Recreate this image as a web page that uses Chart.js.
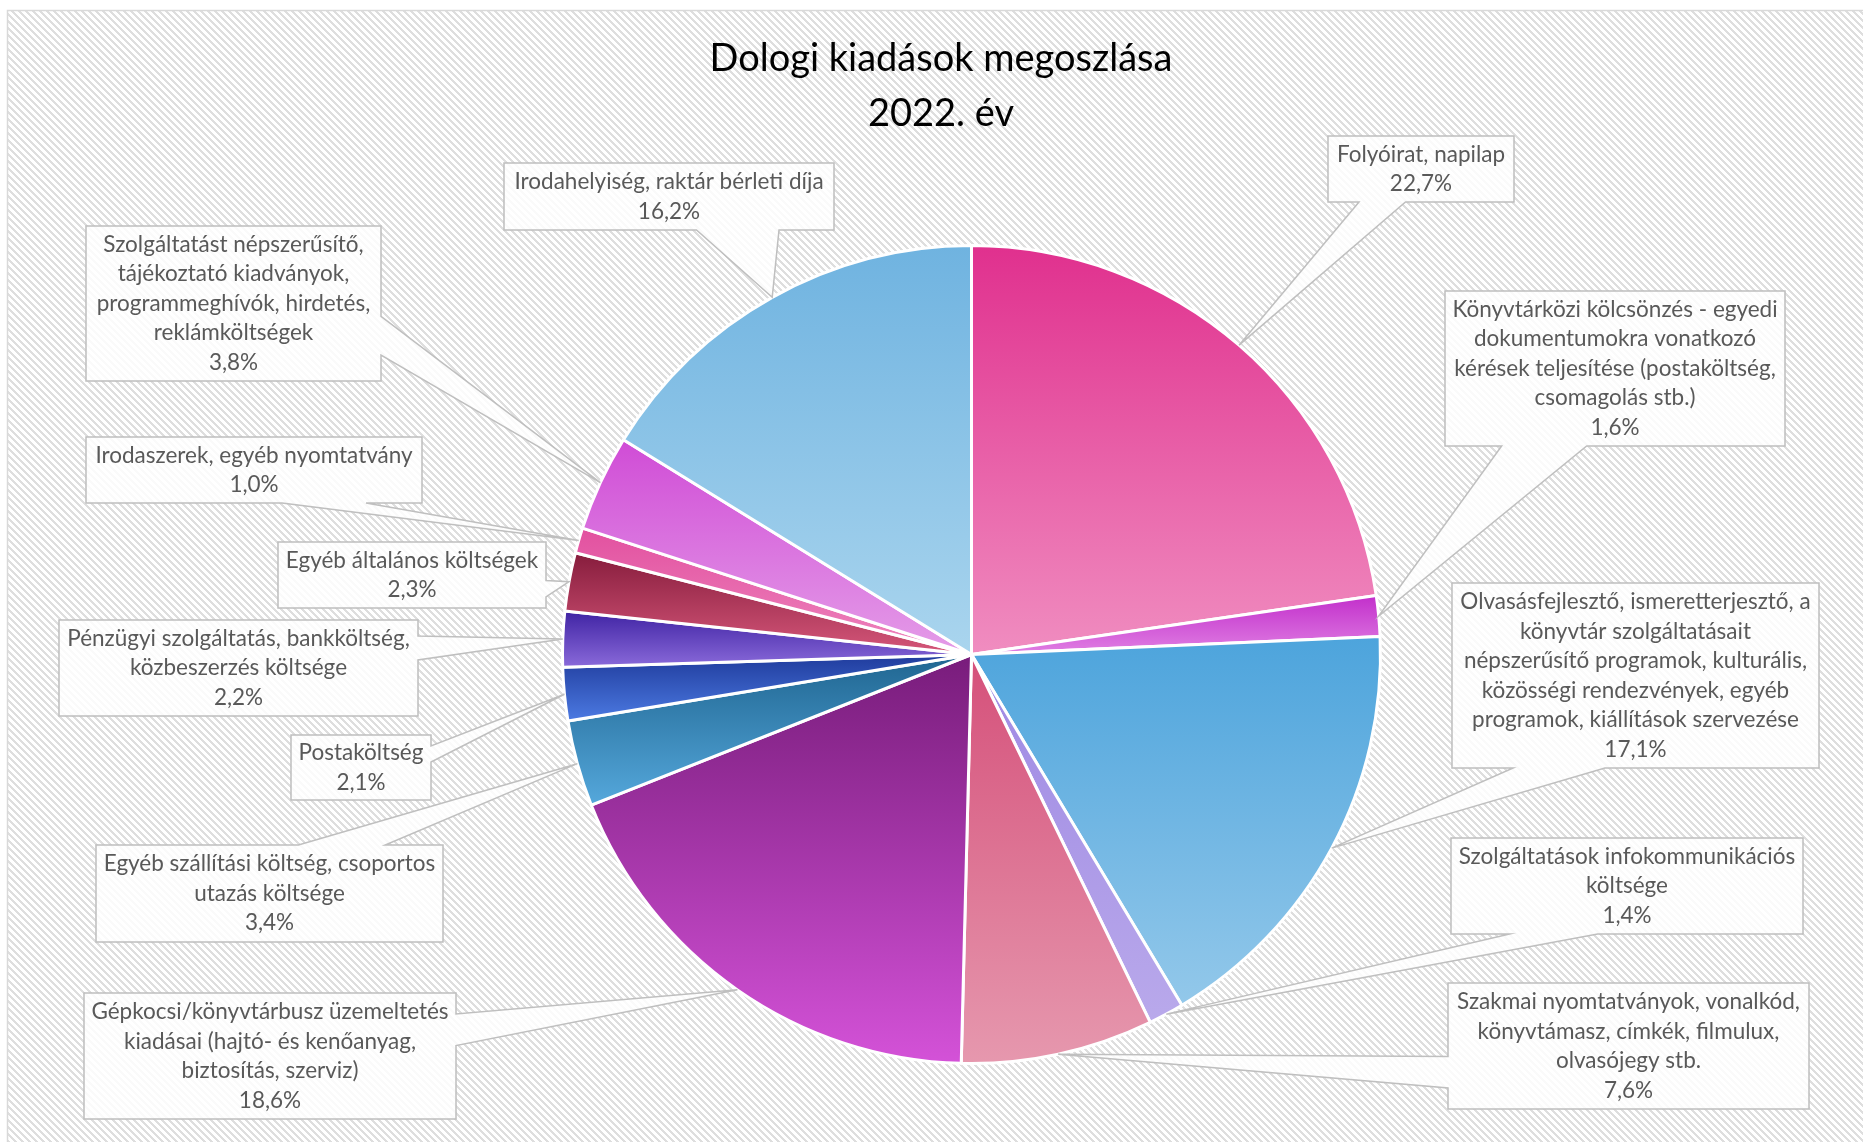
<!DOCTYPE html>
<html>
<head>
<meta charset="utf-8">
<title>Dologi kiadások megoszlása 2022. év</title>
<script src="https://cdn.jsdelivr.net/npm/chart.js@4.4.1/dist/chart.umd.min.js"></script>
<style>
  html, body { margin: 0; padding: 0; background: #fff; }
  #wrap { width: 1863px; height: 1142px; }
</style>
</head>
<body>
<div id="wrap"><canvas id="chart" width="1863" height="1142"></canvas></div>
<script>
const cimSorok = ['Dologi kiadások megoszlása', '2022. év'];

// kategóriák (sortörésekkel, ahogy a feliratokon látszik)
const kategoriak = [
  ['Folyóirat, napilap'],
  ['Könyvtárközi kölcsönzés - egyedi', 'dokumentumokra vonatkozó', 'kérések teljesítése (postaköltség,', 'csomagolás stb.)'],
  ['Olvasásfejlesztő, ismeretterjesztő, a', 'könyvtár szolgáltatásait', 'népszerűsítő programok, kulturális,', 'közösségi rendezvények, egyéb', 'programok, kiállítások szervezése'],
  ['Szolgáltatások infokommunikációs', 'költsége'],
  ['Szakmai nyomtatványok, vonalkód,', 'könyvtámasz, címkék, filmulux,', 'olvasójegy stb.'],
  ['Gépkocsi/könyvtárbusz üzemeltetés', 'kiadásai (hajtó- és kenőanyag,', 'biztosítás, szerviz)'],
  ['Egyéb szállítási költség, csoportos', 'utazás költsége'],
  ['Postaköltség'],
  ['Pénzügyi szolgáltatás, bankköltség,', 'közbeszerzés költsége'],
  ['Egyéb általános költségek'],
  ['Irodaszerek, egyéb nyomtatvány'],
  ['Szolgáltatást népszerűsítő,', 'tájékoztató kiadványok,', 'programmeghívók, hirdetés,', 'reklámköltségek'],
  ['Irodahelyiség, raktár bérleti díja']
];

// százalékos megoszlás
const ertekek = [22.7, 1.6, 17.1, 1.4, 7.6, 18.6, 3.4, 2.1, 2.2, 2.3, 1.0, 3.8, 16.2];

// színátmenet: szelet teteje / alja
const szinekFent = ['#E0308E', '#C22FCB', '#4DA4DC', '#9E88E3', '#D5507A', '#781C7B', '#1F6590',
                    '#1F3B9C', '#3F23A3', '#861C3C', '#E2509F', '#D04CD6', '#6FB3E0'];
const szinekLent = ['#F08DC0', '#E07FE3', '#93C8EA', '#B9A9EB', '#E698AE', '#D452D8', '#55A8DC',
                    '#4C7AE2', '#8A6ADA', '#D6577A', '#EE86BE', '#E49CE8', '#AAD5EE'];

// feliratdobozok helye: [bal, fent, jobb, lent]
const dobozok = [
  [1328, 136, 1514, 202],
  [1445, 291, 1785, 446],
  [1452, 583, 1819, 768],
  [1451, 838, 1803, 934],
  [1448, 983, 1809, 1109],
  [84, 993, 456, 1119],
  [96, 845, 443, 942],
  [291, 735, 431, 800],
  [59, 620, 418, 716],
  [278, 542, 546, 608],
  [86, 437, 422, 503],
  [86, 226, 381, 381],
  [504, 163, 834, 230]
];

const keretVastag = 3;
const betu = 'Lato, "Open Sans", sans-serif';

function szazalek(v) {
  return v.toFixed(1).replace('.', ',') + '%';
}

function szeletSzin(context) {
  const chart = context.chart;
  const area = chart.chartArea;
  const i = context.dataIndex;
  if (!area || i === undefined) return szinekFent[i] || '#cccccc';
  const cx = (area.left + area.right) / 2;
  const cy = (area.top + area.bottom) / 2;
  const r = (Math.min(area.right - area.left, area.bottom - area.top) - keretVastag) / 2;
  const osszes = ertekek.reduce((a, b) => a + b, 0);
  let elotte = 0;
  for (let k = 0; k < i; k++) elotte += ertekek[k];
  const a1 = -Math.PI / 2 + 2 * Math.PI * elotte / osszes;
  const a2 = a1 + 2 * Math.PI * ertekek[i] / osszes;
  const ys = [cy, cy + r * Math.sin(a1), cy + r * Math.sin(a2)];
  [Math.PI / 2, Math.PI * 1.5].forEach(a => {
    if (a > a1 && a < a2) ys.push(cy + r * Math.sin(a));
  });
  const g = chart.ctx.createLinearGradient(0, Math.min(...ys), 0, Math.max(...ys));
  g.addColorStop(0, szinekFent[i]);
  g.addColorStop(1, szinekLent[i]);
  return g;
}

function csikosMinta(ctx) {
  const c = document.createElement('canvas');
  c.width = 7; c.height = 7;
  const m = c.getContext('2d');
  m.fillStyle = '#ffffff';
  m.fillRect(0, 0, 7, 7);
  m.fillStyle = '#dedede';
  for (let y = 0; y < 7; y++) {
    for (let x = 0; x < 7; x++) {
      if (((x - y) % 7 + 7) % 7 < 3) m.fillRect(x, y, 1, 1);
    }
  }
  return ctx.createPattern(c, 'repeat');
}

// Excel-szerű "wedgeRectCallout" alakzat
function kiemeloUtvonal(ctx, l, t, r, b, xPos, yPos) {
  const w = r - l, h = b - t;
  const hc = l + w / 2, vc = t + h / 2;
  const dxPos = xPos - hc, dyPos = yPos - vc;
  const dq = dxPos * h / w;
  const dz = Math.abs(dyPos) - Math.abs(dq);
  const x1 = l + w * (dxPos > 0 ? 7 : 2) / 12;
  const x2 = l + w * (dxPos > 0 ? 10 : 5) / 12;
  const y1 = t + h * (dyPos > 0 ? 7 : 2) / 12;
  const y2 = t + h * (dyPos > 0 ? 10 : 5) / 12;
  const xl = dz > 0 ? l : (dxPos > 0 ? l : xPos);
  const yl = dz > 0 ? y1 : (dxPos > 0 ? y1 : yPos);
  const xt = dz > 0 ? (dyPos > 0 ? x1 : xPos) : x1;
  const yt = dz > 0 ? (dyPos > 0 ? t : yPos) : t;
  const xr = dz > 0 ? r : (dxPos > 0 ? xPos : r);
  const yr = dz > 0 ? y1 : (dxPos > 0 ? yPos : y1);
  const xb = dz > 0 ? (dyPos > 0 ? xPos : x1) : x1;
  const yb = dz > 0 ? (dyPos > 0 ? yPos : b) : b;
  ctx.moveTo(l, t);
  ctx.lineTo(x1, t);
  ctx.lineTo(xt, yt);
  ctx.lineTo(x2, t);
  ctx.lineTo(r, t);
  ctx.lineTo(r, y1);
  ctx.lineTo(xr, yr);
  ctx.lineTo(r, y2);
  ctx.lineTo(r, b);
  ctx.lineTo(x2, b);
  ctx.lineTo(xb, yb);
  ctx.lineTo(x1, b);
  ctx.lineTo(l, b);
  ctx.lineTo(l, y2);
  ctx.lineTo(xl, yl);
  ctx.lineTo(l, y1);
  ctx.closePath();
}

const hatter = {
  id: 'hatter',
  beforeDraw(chart) {
    const ctx = chart.ctx;
    ctx.save();
    ctx.fillStyle = '#ffffff';
    ctx.fillRect(0, 0, chart.width, chart.height);
    ctx.fillStyle = csikosMinta(ctx);
    ctx.fillRect(7, 10, chart.width - 7, chart.height - 10);
    ctx.strokeStyle = '#d9d9d9';
    ctx.lineWidth = 1.5;
    ctx.strokeRect(7.5, 10.5, chart.width + 10, chart.height + 10);
    ctx.restore();
  }
};

const feliratok = {
  id: 'feliratok',
  afterDatasetsDraw(chart) {
    const ctx = chart.ctx;
    const meta = chart.getDatasetMeta(0);
    ctx.save();
    // cím
    ctx.fillStyle = '#000000';
    ctx.font = '38px ' + betu;
    ctx.textAlign = 'center';
    ctx.textBaseline = 'alphabetic';
    cimSorok.forEach((s, k) => ctx.fillText(s, 941, 71 + k * 55));

    meta.data.forEach((arc, i) => {
      const p = arc.getProps(['x', 'y', 'startAngle', 'endAngle', 'outerRadius'], true);
      const mid = (p.startAngle + p.endAngle) / 2;
      const tx = p.x + Math.cos(mid) * p.outerRadius;
      const ty = p.y + Math.sin(mid) * p.outerRadius;
      const [l, t, r, b] = dobozok[i];
      ctx.beginPath();
      kiemeloUtvonal(ctx, l, t, r, b, tx, ty);
      ctx.fillStyle = 'rgba(255,255,255,0.85)';
      ctx.fill();
      ctx.strokeStyle = '#bfbfbf';
      ctx.lineWidth = 1.5;
      ctx.stroke();

      const sorok = kategoriak[i].concat([szazalek(ertekek[i])]);
      const sorMag = 29.5;
      ctx.fillStyle = '#595959';
      ctx.font = '22.5px ' + betu;
      ctx.textAlign = 'center';
      ctx.textBaseline = 'middle';
      const kx = (l + r) / 2;
      const ky = (t + b) / 2 - (sorok.length - 1) * sorMag / 2;
      sorok.forEach((s, k) => ctx.fillText(s, kx, ky + k * sorMag));
    });
    ctx.restore();
  }
};

new Chart(document.getElementById('chart'), {
  type: 'pie',
  data: {
    labels: kategoriak,
    datasets: [{
      data: ertekek,
      backgroundColor: szeletSzin,
      borderColor: '#ffffff',
      borderWidth: keretVastag,
      offset: 0,
      hoverOffset: 0
    }]
  },
  options: {
    responsive: false,
    animation: false,
    events: [],
    layout: { padding: { left: 561, top: 244, right: 481, bottom: 77 } },
    plugins: {
      legend: { display: false },
      tooltip: { enabled: false },
      title: { display: false }
    }
  },
  plugins: [hatter, feliratok]
});
</script>
</body>
</html>
